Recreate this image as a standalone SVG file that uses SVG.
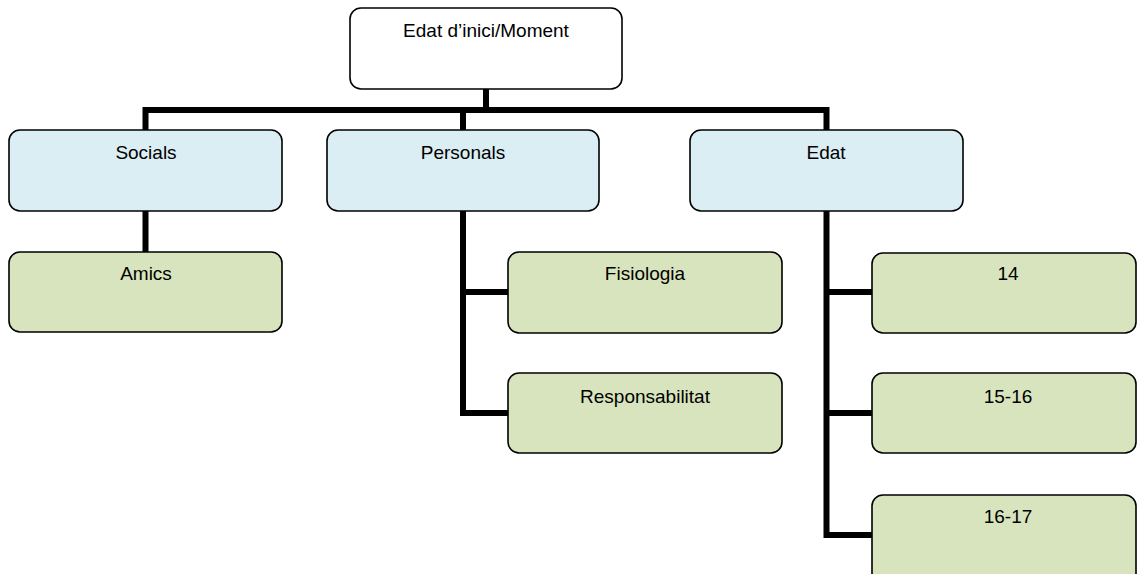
<svg xmlns="http://www.w3.org/2000/svg" width="1137" height="574" viewBox="0 0 1137 574">
<style>
.box{stroke:#000;stroke-width:1.6}
.top{fill:#ffffff}
.l2{fill:#dbeef3}
.l3{fill:#d7e4bd}
.lbl{font-family:"Liberation Sans",Arial,sans-serif;font-size:19px;fill:#000;text-anchor:middle}
.conn{fill:none;stroke:#000;stroke-width:6;stroke-linejoin:miter;stroke-linecap:butt}
</style>
<rect width="1137" height="574" fill="#fff"/>
<g id="connectors">
<path class="conn" d="M486,89 V110"/>
<path class="conn" d="M145.5,130 V110 H826.5 V130"/>
<path class="conn" d="M463,110 V130"/>
<path class="conn" d="M145.5,211 V252"/>
<path class="conn" d="M463,211 V413 H508 M463,292 H508"/>
<path class="conn" d="M826.5,211 V535 H872 M826.5,292 H872 M826.5,413 H872"/>
</g>
<g id="root">
<rect class="box top" x="350" y="8" width="272" height="81" rx="11"/>
<text class="lbl" x="486" y="36.5">Edat d’inici/Moment</text>
</g>
<g id="socials">
<rect class="box l2" x="9" y="130" width="273" height="81" rx="11"/>
<text class="lbl" x="146" y="159">Socials</text>
</g>
<g id="personals">
<rect class="box l2" x="327" y="130" width="272" height="81" rx="11"/>
<text class="lbl" x="463" y="159">Personals</text>
</g>
<g id="edat">
<rect class="box l2" x="690" y="130" width="273" height="81" rx="11"/>
<text class="lbl" x="826" y="159">Edat</text>
</g>
<g id="amics">
<rect class="box l3" x="9" y="252" width="273" height="80" rx="11"/>
<text class="lbl" x="146" y="280">Amics</text>
</g>
<g id="fisiologia">
<rect class="box l3" x="508" y="252" width="274" height="81" rx="11"/>
<text class="lbl" x="645" y="280">Fisiologia</text>
</g>
<g id="responsabilitat">
<rect class="box l3" x="508" y="373" width="274" height="80" rx="11"/>
<text class="lbl" x="645" y="402.5">Responsabilitat</text>
</g>
<g id="age14">
<rect class="box l3" x="872" y="253" width="264" height="80" rx="11"/>
<text class="lbl" x="1008" y="280">14</text>
</g>
<g id="age15-16">
<rect class="box l3" x="872" y="373" width="264" height="80" rx="11"/>
<text class="lbl" x="1008" y="402.5">15-16</text>
</g>
<g id="age16-17">
<rect class="box l3" x="872" y="495" width="264" height="95" rx="11"/>
<text class="lbl" x="1008" y="523">16-17</text>
</g>
</svg>
